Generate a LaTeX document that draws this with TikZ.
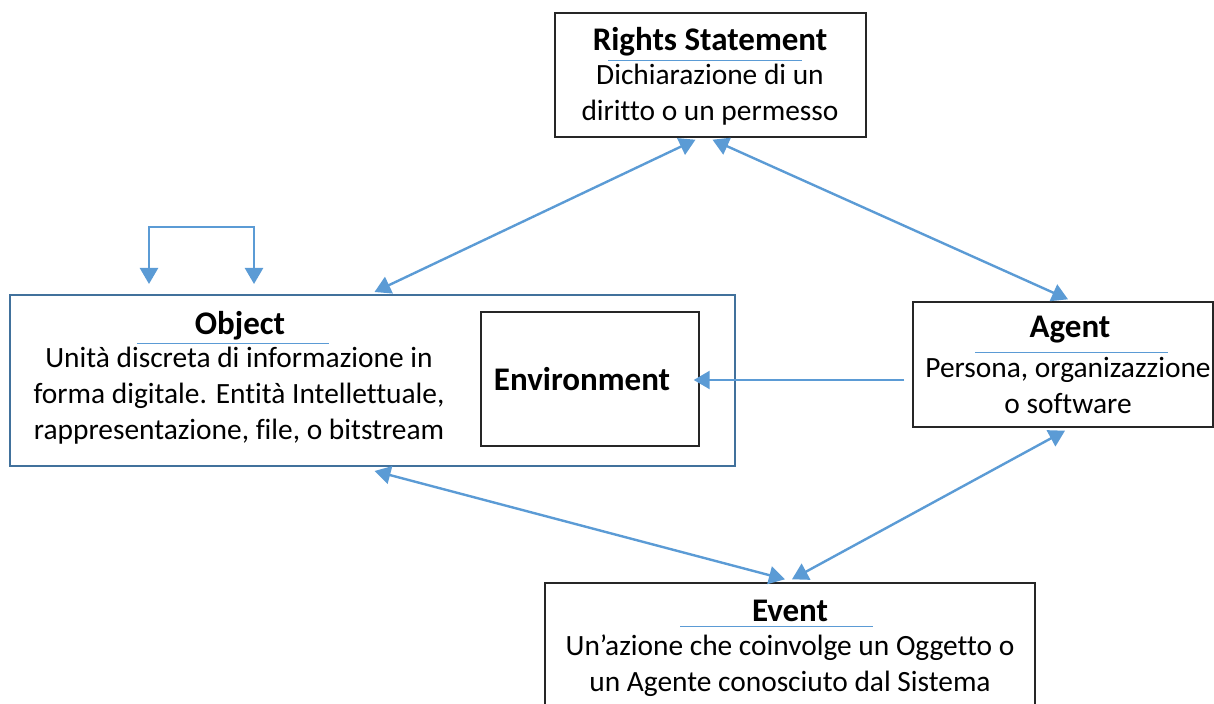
\documentclass[tikz,border=0pt]{standalone}
\usepackage{fontspec}
\setmainfont{Carlito}[Ligatures={NoCommon,NoRequired,NoContextual},Contextuals=NoAlternate]
\usepackage{xcolor}
\usetikzlibrary{calc, arrows.meta, positioning}

\definecolor{linkblue}{HTML}{5B9BD5}
\definecolor{objblue}{HTML}{41719C}

\begin{document}
\begin{tikzpicture}[x=0.5pt,y=-0.5pt,
                    font=\fontsize{14.7}{18}\selectfont,
                    box node/.style={rectangle,draw=black!85,line width=0.7pt,inner sep=0pt},
                    title node/.style={font=\fontsize{16.5}{20}\selectfont\bfseries,inner sep=0pt},
                    text node/.style={align=center,inner sep=0pt},
                    uline/.style={draw=linkblue,line width=0.5pt},
                    link/.style={draw=linkblue,line width=1.2pt,{Triangle[length=8pt,width=9pt]}-{Triangle[length=8pt,width=9pt]}},
                    single link/.style={draw=linkblue,line width=1.2pt,-{Triangle[length=8pt,width=9pt]}}]

  \useasboundingbox (0,0) rectangle (1214,704);

  % boxes
  \node[box node,minimum width=155.5pt,minimum height=62pt] (rights) at (710.5,75) {};
  \node[box node,draw=objblue,line width=1pt,minimum width=362.5pt,minimum height=85.5pt] (object) at (372.5,380.5) {};
  \node[box node,minimum width=109pt,minimum height=67pt] (env) at (590,379) {};
  \node[box node,minimum width=150pt,minimum height=62.5pt] (agent) at (1063,364.5) {};
  \node[box node,minimum width=245pt,minimum height=73.5pt] (event) at (790,656.5) {};

  % texts
  \node[title node] (rights title) at (710,42) {Rights Statement};
  \draw[uline] (608,61) -- (802,61);
  \node[text node] (rights text) at (710,95) {Dichiarazione di un\\diritto o un permesso};

  \node[title node] (object title) at (240,326) {Object};
  \draw[uline] (137,344) -- (329,344);
  \node[text node] (object text) at (239,396) {Unità discreta di informazione in\\forma digitale. Entità Intellettuale,\\rappresentazione, file, o bitstream};

  \node[title node] (env title) at (582,379) {Environment};

  \node[title node] (agent title) at (1070,330) {Agent};
  \draw[uline] (975,353) -- (1168,353);
  \node[text node] (agent text) at (1068,385) {Persona, organizazzione\\o software};

  \node[title node] (event title) at (790,611) {Event};
  \draw[uline] (680,626) -- (873,626);
  \node[text node] (event text) at (790,666) {Un’azione che coinvolge un Oggetto o\\un Agente conosciuto dal Sistema};

  % connectors
  \draw[link] ($(rights.south)+(-15,2)$) -- ($(object.north)+(2,-2)$);
  \draw[link] ($(rights.south)+(2,2)$) -- ($(agent.north)+(5,-2)$);
  \draw[single link] ($(agent.west)+(-8,15.5)$) -- ($(env.east)+(-6,1)$);
  \draw[link] ($(object.south)+(2,4)$) -- ($(event.north)+(-5,-3)$);
  \draw[link] ($(agent.south)+(2,3)$) -- ($(event.north)+(2,-3)$);
  \draw[link] ($(object.north west)+(140,-10)$) -- ++(0,-57) -- ++(105,0) -- ++(0,57);

\end{tikzpicture}
\end{document}
